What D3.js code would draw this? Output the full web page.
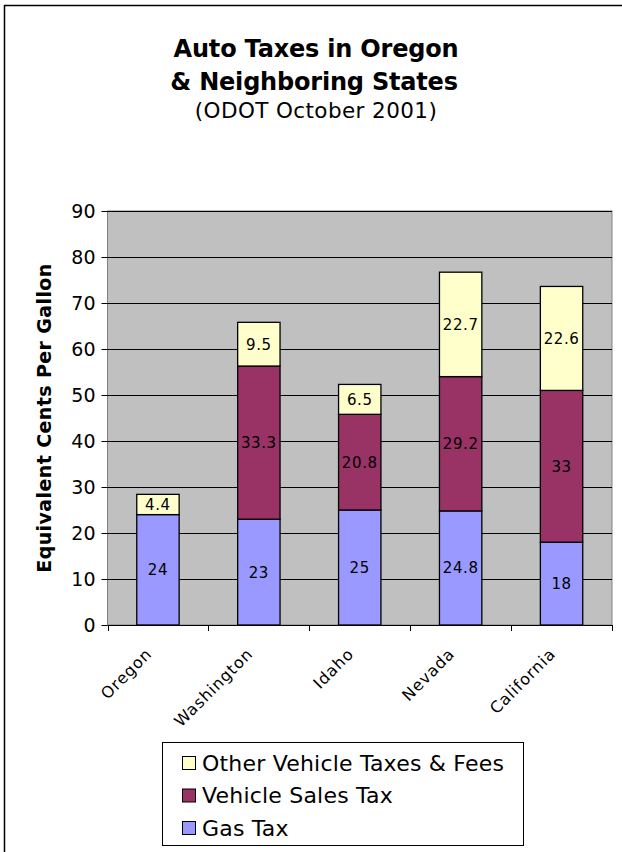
<!DOCTYPE html>
<html><head><meta charset="utf-8">
<script src="https://cdn.jsdelivr.net/npm/d3@7"></script>
<style>
html,body{margin:0;padding:0;background:#fff;}
svg{display:block;}
text{font-family:"DejaVu Sans",sans-serif;}
</style></head>
<body>
<svg id="chart" width="622" height="852"></svg>
<script>
const states = ["Oregon","Washington","Idaho","Nevada","California"];
const gasTax = [24, 23, 25, 24.8, 18];
const salesTax = [0, 33.3, 20.8, 29.2, 33];
const otherTax = [4.4, 9.5, 6.5, 22.7, 22.6];
const seriesNames = ["Gas Tax","Vehicle Sales Tax","Other Vehicle Taxes & Fees"];
const seriesColors = ["#9999FF","#993366","#FFFFCC"];
const yTicks = [0,10,20,30,40,50,60,70,80,90];

const svg = d3.select("#chart");
const F = '"DejaVu Sans",sans-serif';
const TF = '"Liberation Sans",Arial,sans-serif';

// outer frame
svg.append("path").attr("d","M4.5,852 V5.5 H622").attr("fill","none").attr("stroke","#000").attr("stroke-width",1.5);

// titles
svg.append("text").attr("x",316).attr("y",57).attr("text-anchor","middle").attr("font-family",TF)
  .attr("font-size",24).attr("letter-spacing",-0.2).attr("font-weight","bold").text("Auto Taxes in Oregon");
svg.append("text").attr("x",314).attr("y",90).attr("text-anchor","middle").attr("font-family",TF)
  .attr("font-size",24).attr("letter-spacing",-0.2).attr("font-weight","bold").text("& Neighboring States");
svg.append("text").attr("x",316).attr("y",118).attr("text-anchor","middle")
  .attr("font-size",21.5).attr("letter-spacing",0.4).text("(ODOT October 2001)");

const pLeft=107.5, pRight=612, pTop=211, pBottom=625;
const x = d3.scaleBand().domain(states).range([pLeft,pRight]).paddingInner(0.58).paddingOuter(0.29);
const xb = d3.scaleBand().domain(states).range([pLeft,pRight]);
const y = d3.scaleLinear().domain([0,90]).range([pBottom,pTop]);

// plot bg
svg.append("rect").attr("x",pLeft).attr("y",pTop).attr("width",pRight-pLeft).attr("height",pBottom-pTop)
  .attr("fill","#C0C0C0").attr("stroke","#808080").attr("stroke-width",1);

// gridlines
svg.append("g").selectAll("line").data(yTicks.filter(d=>d>0)).join("line")
  .attr("x1",pLeft).attr("x2",pRight).attr("y1",d=>Math.round(y(d))+0.5).attr("y2",d=>Math.round(y(d))+0.5)
  .attr("stroke","#000").attr("stroke-width",1);

// stacked bars
const table = states.map((s,i)=>({state:s, gas:gasTax[i], sales:salesTax[i], other:otherTax[i]}));
const stack = d3.stack().keys(["gas","sales","other"])(table);
const g = svg.append("g");
stack.forEach((layer,li)=>{
  layer.forEach(d=>{
    const v = d[1]-d[0];
    if(v<=0) return;
    g.append("rect").attr("x",x(d.data.state)).attr("width",x.bandwidth())
      .attr("y",y(d[1])).attr("height",y(d[0])-y(d[1]))
      .attr("fill",seriesColors[li]).attr("stroke","#000").attr("stroke-width",1.3);
  });
});
stack.forEach((layer,li)=>{
  layer.forEach(d=>{
    const v = d[1]-d[0];
    if(v<=0) return;
    g.append("text").attr("x",x(d.data.state)+x.bandwidth()/2).attr("y",(y(d[0])+y(d[1]))/2)
      .attr("dy","0.36em").attr("text-anchor","middle").attr("font-size",15).attr("letter-spacing",0.6).attr("fill","#000")
      .text(d3.format("~g")(+v.toFixed(1)));
  });
});

// y axis
const yAxis = d3.axisLeft(y).tickValues(yTicks).tickSize(6).tickPadding(6);
const ya = svg.append("g").attr("transform",`translate(${pLeft},0)`).call(yAxis);
ya.select(".domain").remove();
ya.selectAll(".tick line").attr("stroke","#000");
ya.selectAll(".tick text").attr("font-size",19).attr("font-family",F).attr("fill","#000");

// x axis
const xa = svg.append("g").attr("transform",`translate(0,${pBottom})`);
xa.append("line").attr("x1",pLeft).attr("x2",pRight).attr("y1",0.5).attr("y2",0.5).attr("stroke","#000");
const bounds = states.map(s=>xb(s)).concat([pRight]);
xa.selectAll("line.t").data(bounds).join("line").attr("class","t")
  .attr("x1",d=>Math.round(d)+0.5).attr("x2",d=>Math.round(d)+0.5).attr("y1",0).attr("y2",6).attr("stroke","#000");
xa.selectAll("text").data(states).join("text")
  .attr("transform",d=>`translate(${xb(d)+xb.bandwidth()/2-9},${26}) rotate(-45)`)
  .attr("text-anchor","end").attr("dy","0.35em").attr("font-size",16).attr("letter-spacing",0.9).text(d=>d);

// axis title
svg.append("text").attr("transform",`translate(51,${(pTop+pBottom)/2}) rotate(-90)`)
  .attr("text-anchor","middle").attr("font-size",19).attr("letter-spacing",0.4).attr("font-weight","bold").text("Equivalent Cents Per Gallon");

// legend
const lg = svg.append("g");
lg.append("rect").attr("x",162.5).attr("y",742.5).attr("width",361).attr("height",103)
  .attr("fill","#fff").attr("stroke","#000").attr("stroke-width",1);
const legendOrder = [2,1,0];
const ly = d3.scalePoint().domain(legendOrder).range([763,828]);
legendOrder.forEach(i=>{
  lg.append("rect").attr("x",182.5).attr("y",ly(i)-6.5).attr("width",13).attr("height",13)
    .attr("fill",seriesColors[i]).attr("stroke","#000").attr("stroke-width",1);
  lg.append("text").attr("x",202).attr("y",ly(i)).attr("dy","0.36em").attr("font-size",22).attr("letter-spacing",0.2).text(seriesNames[i]);
});
</script>
</body></html>
